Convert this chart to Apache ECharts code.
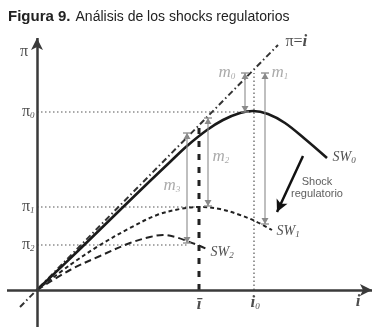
<!DOCTYPE html>
<html><head><meta charset="utf-8">
<script src="https://cdn.jsdelivr.net/npm/echarts@6/dist/echarts.min.js"></script>
<style>html,body{margin:0;padding:0;background:#fff}#c{width:383px;height:333px}</style>
</head><body><div id="c"></div>
<script>
// ---- data (diagram units, origin at the axes crossing) ----
const sw0 = [[0,0],[43,41],[83,80],[113,109],[133,128],[150,144],[170,160],[186,170],[203,177],[216,179],[231,176],[248,167],[268,151],[290,132]];
const sw1 = [[0,0],[33,25],[63,45],[93,62],[120,75],[143,81],[163,83],[183,81],[203,75],[218,69],[235,60]];
const sw2 = [[0,0],[33,20],[63,34],[93,47],[113,53],[126,55],[138,53],[150,49],[163,44],[170,41]];
const piEqualsI = [[-17,-17],[241,245]];
const piTickNames = ['0','1','2'];
const piTickValues = [178, 83, 45];
const piTickEnds = [217, 162, 150];
const iBar = 162;
const i0 = 217;
const dimNames = ['0','1','2','3'];
const dimX = [208, 228, 171, 150];
const dimTop = [217, 217, 172, 157];
const dimBottom = [178, 66, 84, 47];
const swNames = ['0','1','2'];

const serif = 'Liberation Serif';
const sans = 'Liberation Sans';
const chart = echarts.init(document.getElementById('c'), null, {renderer:'canvas'});

function line(data, lineStyle, z){
  return {type:'line', data:data, symbol:'none', smooth:false, silent:true, z:z||2,
    lineStyle:lineStyle, animation:false};
}

const series = [];
// dotted guides
piTickValues.forEach((v,k)=>{
  series.push(line([[0,v],[piTickEnds[k],v]], {color:'#555', width:1.2, type:[1.5,2.5]}, 1));
});
series.push(line([[i0,0],[i0,217]], {color:'#555', width:1.2, type:[1.5,2.5]}, 1));
// thick dashed at i-bar
series.push(line([[iBar,0],[iBar,165]], {color:'#222', width:3, type:[6,7]}, 1));
// pi = i
series.push(line(piEqualsI, {color:'#333', width:2, type:[6,3,1.5,3]}, 2));
// curves
series.push({type:'line', data:sw0, symbol:'none', smooth:0.35, silent:true, animation:false, z:3,
  lineStyle:{color:'#1a1a1a', width:2.6}});
series.push({type:'line', data:sw1, symbol:'none', smooth:0.35, silent:true, animation:false, z:3,
  lineStyle:{color:'#222', width:2, type:[4,3]}});
series.push({type:'line', data:sw2, symbol:'none', smooth:0.35, silent:true, animation:false, z:3,
  lineStyle:{color:'#222', width:2, type:[7,4]}});
// axes and shock arrow
series.push({type:'line', data:[], silent:true, animation:false, z:4,
  markLine:{silent:true, animation:false, label:{show:false}, symbol:['none','arrow'], symbolSize:[9,12],
    data:[
      [{coord:[-30,0], lineStyle:{color:'#3a3a3a', width:2.5, type:'solid'}},{coord:[335,0]}],
      [{coord:[0,-37], lineStyle:{color:'#3a3a3a', width:2.5, type:'solid'}},{coord:[0,252]}],
      [{coord:[266,134], lineStyle:{color:'#111', width:2.5, type:'solid'}},{coord:[240,78]}]
    ]}});
// dimension arrows
series.push({type:'custom', silent:true, animation:false, z:5,
  data: dimX.map((x,k)=>[x, dimTop[k], dimBottom[k]]),
  encode:{x:0, y:[1,2]},
  renderItem:function(params, api){
    const x = api.value(0);
    const p1 = api.coord([x, api.value(1)]), p2 = api.coord([x, api.value(2)]);
    const c = '#8a8a8a', w = 4, h = 6;
    return {type:'group', children:[
      {type:'line', shape:{x1:p1[0],y1:p1[1],x2:p2[0],y2:p2[1]}, style:{stroke:c, lineWidth:1.1}},
      {type:'line', shape:{x1:p1[0]-w,y1:p1[1],x2:p1[0]+w,y2:p1[1]}, style:{stroke:c, lineWidth:1.3}},
      {type:'polygon', shape:{points:[[p1[0],p1[1]],[p1[0]-3.5,p1[1]+h],[p1[0]+3.5,p1[1]+h]]}, style:{fill:c}},
      {type:'line', shape:{x1:p2[0]-w,y1:p2[1],x2:p2[0]+w,y2:p2[1]}, style:{stroke:c, lineWidth:1.3}},
      {type:'polygon', shape:{points:[[p2[0],p2[1]],[p2[0]-3.5,p2[1]-h],[p2[0]+3.5,p2[1]-h]]}, style:{fill:c}}
    ]};
  }});

// text labels
const sub = (col)=>({fontFamily:serif, fontSize:9, fontStyle:'italic', color:col, padding:[7,0,0,0]});
const rich = {
  pi:{fontFamily:serif, fontSize:16, color:'#222'},
  ps:sub('#222'),
  sw:{fontFamily:serif, fontSize:14, fontStyle:'italic', color:'#222'},
  ss:sub('#222'),
  m:{fontFamily:serif, fontSize:17, fontStyle:'italic', color:'#959595'},
  ms:sub('#959595'),
  ib:{fontFamily:serif, fontSize:17, fontStyle:'italic', fontWeight:'bold', color:'#222'},
  eq:{fontFamily:serif, fontSize:16, color:'#222'},
  sh:{fontFamily:sans, fontSize:11, color:'#333', lineHeight:12, align:'center'}
};
const labels = [];
function lab(pos, text, position){
  labels.push({value:pos, label:{show:true, formatter:text, position:position||'right', distance:0, rich:rich}});
}
piTickNames.forEach((n,k)=>lab([-2, piTickValues[k]], '{pi|π}{ps|'+n+'}', 'left'));
lab([181,217], '{m|m}{ms|'+dimNames[0]+'}');
lab([234,217], '{m|m}{ms|'+dimNames[1]+'}');
lab([175,133], '{m|m}{ms|'+dimNames[2]+'}');
lab([126,104], '{m|m}{ms|'+dimNames[3]+'}');
lab([295,133], '{sw|SW}{ss|'+swNames[0]+'}');
lab([239,59], '{sw|SW}{ss|'+swNames[1]+'}');
lab([173,38], '{sw|SW}{ss|'+swNames[2]+'}');
lab([-13,238], '{pi|π}', 'inside');
lab([248,248], '{eq|π=}{ib|i}');
lab([iBar,-15], '{ib|ī}', 'inside');
lab([i0-4,-13], '{ib|i}{ss|0}');
lab([321,-12], '{ib|i}', 'inside');
lab([280,102], '{sh|Shock}\n{sh|regulatorio}', 'inside');
series.push({type:'scatter', data:labels, symbolSize:1, itemStyle:{color:'rgba(0,0,0,0)'},
  silent:true, animation:false, z:6});

chart.setOption({
  animation:false,
  title:{text:'{b|Figura 9.} {n|Análisis de los shocks regulatorios}', left:3, top:3,
    textStyle:{fontWeight:'normal', rich:{b:{fontFamily:sans, fontWeight:'bold', fontSize:15, color:'#222'},
                     n:{fontFamily:sans, fontWeight:'normal', fontSize:14, color:'#222'}}}},
  grid:{left:0, right:0, top:0, bottom:0},
  xAxis:{type:'value', min:-37, max:346, show:false},
  yAxis:{type:'value', min:-43, max:290, show:false},
  series:series
});
</script></body></html>
